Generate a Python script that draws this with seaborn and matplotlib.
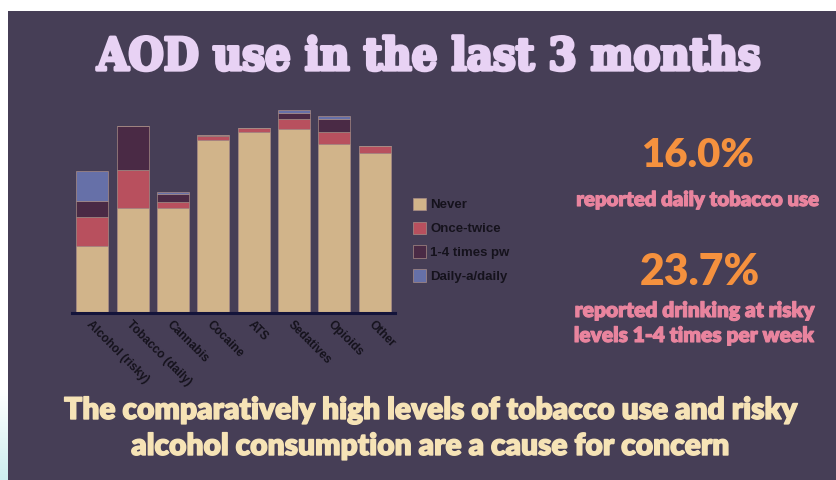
import numpy as np
import matplotlib
matplotlib.use("Agg")
import matplotlib.pyplot as plt
import matplotlib.patheffects as pe
from matplotlib.patches import Patch, Rectangle
import seaborn as sns

# Substances and frequency-of-use counts (last 3 months)
categories = ["Alcohol (risky)", "Tobacco (daily)", "Cannabis", "Cocaine",
              "ATS", "Sedatives", "Opioids", "Other"]
never = [67, 105, 105, 173, 181, 184, 169, 160]
once_twice = [29, 38, 6, 4, 4, 10, 12, 7]
one_four_pw = [16, 44, 8, 1, 0, 6, 13, 0]
daily = [30, 0, 2, 0, 0, 3, 3, 0]
series_labels = ["Never", "Once-twice", "1-4 times pw", "Daily-a/daily"]

stat_tobacco = "16.0%"
stat_alcohol = "23.7%"

W, H = 836, 480
BG = "#463E56"
colors = ["#D1B48A", "#B8505E", "#4A2A45", "#6670A8"]
EDGE = "#a88c86"

sns.set_style("white")
plt.rcParams["font.family"] = ["DejaVu Sans"]

fig = plt.figure(figsize=(W / 100, H / 100), dpi=100, facecolor="white")

# dark panel behind everything
fig.patches.append(Rectangle((8 / W, 0), 1 - 8 / W, 1 - 11 / H,
                             transform=fig.transFigure, facecolor=BG,
                             edgecolor="none", zorder=-10))
# faint cyan wash at the lower-left edge
gax = fig.add_axes([0, 0, 8 / W, 90 / H])
grad = np.linspace(0, 1, 100)[:, None]
gax.imshow(grad, aspect="auto", cmap=matplotlib.colors.LinearSegmentedColormap.from_list(
    "wash", ["#ffffff", "#cdeef0"]), extent=[0, 1, 0, 1], origin="upper")
gax.axis("off")


def px_axes(x0, y0, x1, y1):
    return [x0 / W, 1 - y1 / H, (x1 - x0) / W, (y1 - y0) / H]


ax = fig.add_axes(px_axes(72, 100, 395, 313))
ax.set_facecolor("none")

layers = [never, once_twice, one_four_pw, daily]
bottom = np.zeros(len(categories))
for vals, col in zip(layers, colors):
    sns.barplot(x=categories, y=vals, bottom=bottom, color=col, saturation=1,
                width=0.79, edgecolor=EDGE, linewidth=0.5, ax=ax)
    bottom = bottom + np.array(vals)

ax.set_xlim(-0.5, len(categories) - 0.5)
ax.set_ylim(0, 213)
ax.set_yticks([])
ax.set_ylabel("")
for s in ["top", "right", "left"]:
    ax.spines[s].set_visible(False)
ax.spines["bottom"].set_color("#14143a")
ax.spines["bottom"].set_linewidth(2.2)
ax.tick_params(axis="x", length=0, pad=4)
ax.set_xticks(range(len(categories)))
ax.set_xticklabels(categories, rotation=-45, ha="left", va="top",
                   rotation_mode="anchor", fontsize=8.6, fontweight="bold",
                   color="#15121c", family="Liberation Sans")

handles = [Patch(facecolor=c, edgecolor=EDGE, linewidth=0.5) for c in colors]
leg = ax.legend(handles, series_labels, loc="upper left",
                bbox_to_anchor=(406 / W, 1 - 191 / H), bbox_transform=fig.transFigure,
                frameon=False, borderpad=0, handlelength=1.05, handleheight=1.05,
                handletextpad=0.3, labelspacing=0.78,
                prop={"family": "Liberation Sans", "weight": "bold", "size": 9.5})
for t in leg.get_texts():
    t.set_color("#15121c")

renderer = fig.canvas.get_renderer()


def fit_text(s, cx, base_y, width_px, size=None, **kw):
    t = fig.text(cx / W, 1 - base_y / H, s, ha="center", va="baseline",
                 fontsize=20, **kw)
    if size is None:
        w = t.get_window_extent(renderer).width
        size = 20 * width_px / w
    t.set_fontsize(size)
    return size


# headline
fit_text("AOD use in the last 3 months", 428, 70, 663, color="#E8D2F4",
         family="DejaVu Serif", fontweight="bold", fontstretch="condensed",
         path_effects=[pe.withStroke(linewidth=2.4, foreground="#E8D2F4")])

# headline statistics
num_kw = dict(color="#F5913E", family="Lato", fontweight="heavy")
txt_kw = dict(color="#E9849E", family="Lato", fontweight="heavy",
              path_effects=[pe.withStroke(linewidth=0.8, foreground="#E9849E")])
fit_text(stat_tobacco, 697, 167, 113, **num_kw)
fit_text("reported daily tobacco use", 697, 206, 243, **txt_kw)
fit_text(stat_alcohol, 700, 285, 120, **num_kw)
sz = fit_text("reported drinking at risky", 695, 317, 240, **txt_kw)
fit_text("levels 1-4 times per week", 694, 342, 218, size=sz, **txt_kw)

# closing remark
bot_kw = dict(color="#F6E3B6", family="Lato", fontweight="heavy",
              path_effects=[pe.withStroke(linewidth=1.0, foreground="#F6E3B6")])
sz = fit_text("The comparatively high levels of tobacco use and risky",
              430, 419, 734, **bot_kw)
fit_text("alcohol consumption are a cause for concern", 429.5, 455, 593,
         size=sz, **bot_kw)

fig.savefig("out.png", dpi=100, facecolor="white")
